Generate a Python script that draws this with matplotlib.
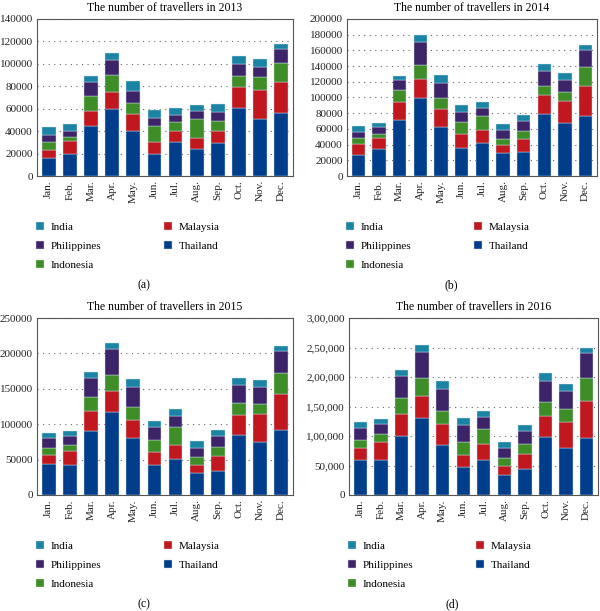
import matplotlib
matplotlib.use("Agg")
import matplotlib.pyplot as plt
from matplotlib.patches import Patch
import numpy as np

plt.rcParams.update({'font.size': 8, 'font.family': 'Liberation Serif'})

months = ["Jan.", "Feb.", "Mar.", "Apr.", "May.", "Jun.", "Jul.", "Aug.", "Sep.", "Oct.", "Nov.", "Dec."]
countries = ["Thailand", "Malaysia", "Indonesia", "Philippines", "India"]
colors = {
    "Thailand": "#003d8a",
    "Malaysia": "#c0181e",
    "Indonesia": "#3e8d26",
    "Philippines": "#3d2468",
    "India": "#1b84a5",
}

# 2013
thailand_2013 = [16000, 20000, 45000, 60000, 40000, 20000, 30000, 24000, 29000, 61000, 51000, 56000]
malaysia_2013 = [7000, 11000, 13000, 15000, 15000, 10000, 10000, 10000, 11000, 18000, 26000, 28000]
indonesia_2013 = [7000, 4000, 13000, 15000, 10000, 15000, 8000, 17000, 9000, 10000, 11000, 17000]
philippines_2013 = [7000, 5000, 13000, 13000, 11000, 7000, 6000, 7000, 8000, 11000, 9000, 12000]
india_2013 = [7000, 6000, 5000, 7000, 9000, 7000, 7000, 5000, 7000, 7000, 7000, 5000]

# 2014
thailand_2014 = [27000, 34000, 71000, 99000, 62000, 36000, 42000, 29000, 31000, 79000, 67000, 76000]
malaysia_2014 = [14000, 14000, 23000, 25000, 23000, 17000, 17000, 10000, 16000, 24000, 28000, 39000]
indonesia_2014 = [7000, 6000, 15000, 17000, 14000, 16000, 17000, 8000, 10000, 12000, 12000, 24000]
philippines_2014 = [8000, 8000, 13000, 30000, 19000, 13000, 10000, 12000, 13000, 19000, 15000, 21000]
india_2014 = [8000, 5000, 6000, 8000, 11000, 8000, 8000, 7000, 8000, 9000, 9000, 7000]

# 2015
thailand_2015 = [44000, 43000, 91000, 117000, 80000, 43000, 51000, 31000, 34000, 85000, 75000, 92000]
malaysia_2015 = [12000, 19000, 28000, 30000, 26000, 18000, 20000, 12000, 21000, 28000, 39000, 50000]
indonesia_2015 = [10000, 9000, 20000, 22000, 18000, 16000, 25000, 10000, 13000, 17000, 14000, 30000]
philippines_2015 = [14000, 13000, 26000, 37000, 28000, 19000, 16000, 14000, 16000, 25000, 25000, 32000]
india_2015 = [8000, 7000, 9000, 9000, 12000, 9000, 9000, 9000, 8000, 10000, 9000, 7000]

# 2016
thailand_2016 = [60000, 60000, 100000, 131000, 84000, 47000, 60000, 34000, 44000, 98000, 80000, 96000]
malaysia_2016 = [20000, 30000, 38000, 37000, 36000, 20000, 26000, 15000, 26000, 36000, 44000, 63000]
indonesia_2016 = [14000, 13000, 26000, 31000, 22000, 23000, 26000, 13000, 17000, 24000, 22000, 40000]
philippines_2016 = [19000, 17000, 38000, 43000, 37000, 28000, 21000, 17000, 21000, 36000, 30000, 42000]
india_2016 = [10000, 9000, 10000, 12000, 14000, 12000, 10000, 10000, 11000, 13000, 12000, 8000]

yticks_2013 = [0, 20000, 40000, 60000, 80000, 100000, 120000, 140000]
yticks_2014 = [0, 20000, 40000, 60000, 80000, 100000, 120000, 140000, 160000, 180000, 200000]
yticks_2015 = [0, 50000, 100000, 150000, 200000, 250000]
yticks_2016 = [0, 50000, 100000, 150000, 200000, 250000, 300000]
ytick_labels_2016 = ["0", "50,000", "1,00,000", "1,50,000", "2,00,000", "2,50,000", "3,00,000"]

panels = [
    (2013, [thailand_2013, malaysia_2013, indonesia_2013, philippines_2013, india_2013],
     yticks_2013, None, [37, 293, 19, 176], "(a)"),
    (2014, [thailand_2014, malaysia_2014, indonesia_2014, philippines_2014, india_2014],
     yticks_2014, None, [347, 597, 19, 176], "(b)"),
    (2015, [thailand_2015, malaysia_2015, indonesia_2015, philippines_2015, india_2015],
     yticks_2015, None, [37, 293, 318, 495], "(c)"),
    (2016, [thailand_2016, malaysia_2016, indonesia_2016, philippines_2016, india_2016],
     yticks_2016, ytick_labels_2016, [349, 598, 318, 495], "(d)"),
]

W, H = 600, 611
fig = plt.figure(figsize=(6, 6.11), dpi=100)
x = np.arange(len(months))

for year, series, yticks, ylabels, (l, r, t, b), tag in panels:
    ax = fig.add_axes([l / W, 1 - b / H, (r - l) / W, (b - t) / H])
    bottom = np.zeros(len(months))
    for name, vals in zip(countries, series):
        ax.bar(x, vals, width=0.65, bottom=bottom, color=colors[name],
               edgecolor="#cfe3ee", linewidth=0.3, zorder=3)
        bottom += np.array(vals)
    ax.set_xlim(-0.55, 11.55)
    ax.set_ylim(yticks[0], yticks[-1])
    ax.set_yticks(yticks)
    if ylabels:
        ax.set_yticklabels(ylabels)
    ax.set_xticks(x)
    ax.set_xticklabels(months, rotation=90)
    ax.tick_params(length=0, pad=3, labelsize=8, colors="#222222")
    ax.yaxis.grid(True, linestyle=(0, (1, 4)), color="#666666", linewidth=0.8, zorder=0)
    for sp in ax.spines.values():
        sp.set_color("#555555")
        sp.set_linewidth(0.8)
    ax.set_title(f"The number of travellers in {year}", fontsize=8.5, pad=6)

    # legend under each panel: India/Philippines/Indonesia | Malaysia/Thailand
    order = ["India", "Philippines", "Indonesia", "Malaysia", "Thailand"]
    handles = [Patch(facecolor=colors[c], edgecolor="#dddddd", linewidth=0.3, label=c) for c in order]
    fig.legend(handles=handles, ncol=2, loc="upper left",
               bbox_to_anchor=((l - 11) / W, 1 - (b + 36) / H),
               frameon=False, handlelength=0.7, handleheight=0.7, handletextpad=0.6,
               columnspacing=5.7, labelspacing=0.82, fontsize=8)
    fig.text(((l + r) / 2 - 21) / W, 1 - (b + 109) / H, tag, ha="center", va="center", fontsize=8.5)

fig.savefig("out.png", dpi=100)
